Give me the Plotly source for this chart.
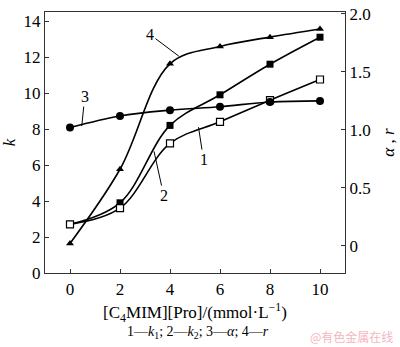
import plotly.graph_objects as go

# Concentration of [C4MIM][Pro], mmol/L
conc = [0, 2, 4, 6, 8, 10]

# Left axis: rate constants
k1 = [2.7, 3.6, 7.2, 8.4, 9.6, 10.75]
k2 = [2.7, 3.9, 8.2, 9.9, 11.6, 13.1]
# Right axis: alpha and r
alpha = [1.02, 1.12, 1.17, 1.20, 1.24, 1.25]
r = [0.02, 0.66, 1.57, 1.72, 1.80, 1.87]

k_ticks = [0, 2, 4, 6, 8, 10, 12, 14]
ar_ticks = [0, 0.5, 1.0, 1.5, 2.0]
ar_ticktext = ["0", "0.5", "1.0", "1.5", "2.0"]
x_ticks = [0, 2, 4, 6, 8, 10]

FONT = "Liberation Serif"
LINE = dict(color="black", width=1.6, shape="spline", smoothing=1.0)

fig = go.Figure()
fig.add_trace(go.Scatter(x=conc, y=k2, mode="lines+markers", line=LINE,
                         marker=dict(symbol="square", size=7, color="black"),
                         cliponaxis=False, showlegend=False))
fig.add_trace(go.Scatter(x=conc, y=k1, mode="lines+markers", line=LINE,
                         marker=dict(symbol="square", size=7, color="white",
                                     line=dict(width=1.2, color="black")),
                         cliponaxis=False, showlegend=False))
fig.add_trace(go.Scatter(x=conc, y=alpha, mode="lines+markers", line=LINE, yaxis="y2",
                         marker=dict(symbol="circle", size=8, color="black"),
                         cliponaxis=False, showlegend=False))
fig.add_trace(go.Scatter(x=conc, y=r, mode="lines+markers", line=LINE, yaxis="y2",
                         marker=dict(symbol="triangle-up", size=7, color="black"),
                         cliponaxis=False, showlegend=False))

# Curve labels with leader lines
labels = [
    ("1", 5.14, 8.1, 5.34, 6.3),
    ("2", 3.36, 6.76, 3.75, 4.3),
    ("3", 0.47, 8.16, 0.59, 9.8),
    ("4", 4.35, 12.05, 3.2, 13.25),
]
annotations = []
for txt, px, py, tx, ty in labels:
    annotations.append(dict(text=txt, x=px, y=py, ax=tx, ay=ty, xref="x", yref="y",
                            axref="x", ayref="y", showarrow=True, arrowhead=0,
                            arrowwidth=1, arrowcolor="black", standoff=0,
                            font=dict(family=FONT, size=16, color="black")))

annotations.append(dict(text="1—<i>k</i><sub>1</sub>; 2—<i>k</i><sub>2</sub>; 3—<i>α</i>; 4—<i>r</i>",
                        xref="paper", yref="paper", x=0.51, y=-0.228, xanchor="center",
                        yanchor="middle", showarrow=False,
                        font=dict(family=FONT, size=14, color="black")))
annotations.append(dict(text="@有色金属在线", xref="paper", yref="paper", x=1.165, y=-0.245,
                        xanchor="right", yanchor="middle", showarrow=False,
                        font=dict(family="Noto Sans CJK SC", size=12, color="#f5b5bf")))

axis_common = dict(showline=True, linecolor="#333", linewidth=1.4, ticks="inside",
                   ticklen=4, tickcolor="#333", showgrid=False, zeroline=False,
                   ticklabeloverflow="allow",
                   tickfont=dict(family=FONT, size=17, color="black"))

fig.update_layout(
    width=400, height=347,
    margin=dict(l=45, r=53, t=5, b=74),
    plot_bgcolor="white", paper_bgcolor="white",
    xaxis=dict(range=[-1, 11], tickvals=x_ticks, mirror=True,
               title=dict(text="[C<sub>4</sub>MIM][Pro]/(mmol·L<sup>−1</sup>)",
                          font=dict(family=FONT, size=17, color="black"), standoff=8),
               **axis_common),
    yaxis=dict(range=[0, 14.5], tickvals=k_ticks,
               title=dict(text="<i>k</i>", font=dict(family=FONT, size=17, color="black"),
                          standoff=5),
               **axis_common),
    yaxis2=dict(range=[-0.235, 2.017], tickvals=ar_ticks, ticktext=ar_ticktext,
                overlaying="y", side="right",
                title=dict(text="<i>α</i> , <i>r</i>",
                           font=dict(family=FONT, size=17, color="black"), standoff=12),
                **axis_common),
    annotations=annotations,
)

fig.write_html("out.html")
